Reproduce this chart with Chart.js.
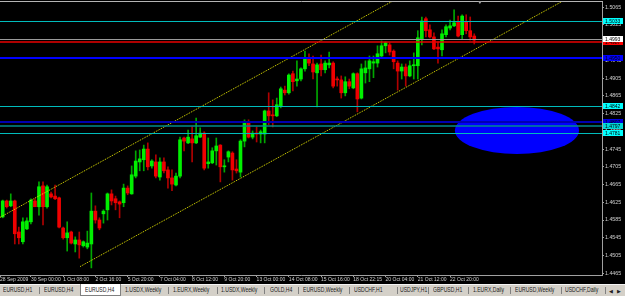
<!DOCTYPE html>
<html>
<head>
<meta charset="utf-8">
<script src="https://cdn.jsdelivr.net/npm/chart.js@4.4.0/dist/chart.umd.min.js"></script>
<style>
html, body { margin: 0; padding: 0; background: #000; }
#wrap { position: relative; width: 625px; height: 296px; overflow: hidden; background: #000; }
#c { position: absolute; left: 0; top: 0; }
#tabs { position: absolute; left: 0; top: 284px; width: 625px; height: 12px; background: #d4d0c8;
        border-top: 1px solid #f4f4f4; box-sizing: border-box;
        font: 6.5px "Liberation Sans", Arial, sans-serif; color: #202020; }
.tab { position: absolute; top: 1px; white-space: nowrap; transform: scaleX(0.78); transform-origin: 0 0; }
.sep { position: absolute; top: 2px; width: 1px; height: 7px; background: #808080; }
.act { position: absolute; top: -1px; height: 12px; background: #fff; border: 1px solid #808080; border-top: none; box-sizing: border-box; }
</style>
</head>
<body>
<div id="wrap">
  <canvas id="c" width="625" height="284"></canvas>
  <div id="tabs"></div>
</div>
<script>
// ---------- Data (EURUSD H4) ----------
const opens = [
  1.4592,1.4628,1.4617,1.4628,1.4558,1.4536,1.4565,1.4581,1.4628,1.4615,
  1.4662,1.4615,1.4644,1.4639,1.4635,1.4567,1.4545,1.4558,1.4531,1.4540,
  1.4527,1.4524,1.4531,1.4605,1.4585,1.4599,1.4608,1.4644,1.4633,1.4626,
  1.4624,1.4657,1.4644,1.4684,1.4716,1.4721,1.4745,1.4707,1.4716,1.4682,
  1.4716,1.4698,1.4680,1.4664,1.4684,1.4770,1.4759,1.4768,1.4759,1.4772,
  1.4781,1.4712,1.4714,1.4741,1.4754,1.4705,1.4727,1.4736,1.4700,1.4693,
  1.4763,1.4806,1.4772,1.4781,1.4779,1.4779,1.4831,1.4822,1.4820,1.4842,
  1.4878,1.4872,1.4915,1.4899,1.4903,1.4926,1.4948,1.4937,1.4917,1.4937,
  1.4924,1.4935,1.4939,1.4903,1.4901,1.4872,1.4897,1.4883,1.4915,1.4860,
  1.4917,1.4926,1.4939,1.4939,1.4955,1.4978,1.4980,1.4966,1.4939,1.4921,
  1.4930,1.4910,1.4933,1.4933,1.4994,1.5039,1.5014,1.4998,1.4975,1.4969,
  1.5003,1.5018,1.5023,1.5032,1.5003,1.5032,1.5012,1.5000
];
const highs = [
  1.4630,1.4630,1.4644,1.4630,1.4569,1.4590,1.4590,1.4633,1.4633,1.4671,
  1.4671,1.4664,1.4648,1.4664,1.4637,1.4569,1.4581,1.4560,1.4547,1.4558,
  1.4538,1.4560,1.4646,1.4617,1.4590,1.4608,1.4646,1.4653,1.4639,1.4628,
  1.4666,1.4662,1.4707,1.4741,1.4743,1.4754,1.4759,1.4721,1.4732,1.4725,
  1.4725,1.4705,1.4698,1.4691,1.4772,1.4772,1.4788,1.4795,1.4815,1.4793,
  1.4784,1.4770,1.4748,1.4770,1.4755,1.4721,1.4741,1.4739,1.4721,1.4766,
  1.4811,1.4811,1.4786,1.4795,1.4788,1.4833,1.4872,1.4856,1.4860,1.4885,
  1.4887,1.4915,1.4921,1.4944,1.4928,1.4966,1.4960,1.4955,1.4939,1.4957,
  1.4944,1.4964,1.4942,1.4908,1.4910,1.4908,1.4903,1.4917,1.4917,1.4937,
  1.4944,1.4955,1.4955,1.4978,1.4989,1.4987,1.4985,1.4969,1.4944,1.4937,
  1.4937,1.4944,1.4962,1.5012,1.5043,1.5043,1.5025,1.5007,1.4987,1.5014,
  1.5025,1.5036,1.5059,1.5045,1.5048,1.5048,1.5043,1.5005
];
const lows = [
  1.4590,1.4612,1.4615,1.4531,1.4531,1.4531,1.4563,1.4576,1.4615,1.4596,
  1.4574,1.4612,1.4635,1.4631,1.4567,1.4542,1.4515,1.4531,1.4513,1.4499,
  1.4524,1.4520,1.4477,1.4578,1.4563,1.4578,1.4585,1.4619,1.4608,1.4590,
  1.4615,1.4642,1.4643,1.4680,1.4696,1.4696,1.4698,1.4702,1.4680,1.4675,
  1.4691,1.4657,1.4651,1.4662,1.4680,1.4741,1.4757,1.4716,1.4757,1.4771,
  1.4698,1.4702,1.4712,1.4709,1.4671,1.4693,1.4716,1.4675,1.4691,1.4682,
  1.4750,1.4770,1.4768,1.4761,1.4759,1.4759,1.4800,1.4795,1.4818,1.4838,
  1.4867,1.4869,1.4876,1.4887,1.4899,1.4921,1.4933,1.4903,1.4840,1.4910,
  1.4917,1.4928,1.4883,1.4887,1.4860,1.4865,1.4881,1.4881,1.4829,1.4858,
  1.4894,1.4897,1.4906,1.4930,1.4953,1.4962,1.4957,1.4926,1.4878,1.4903,
  1.4887,1.4908,1.4903,1.4903,1.4980,1.4998,1.4996,1.4969,1.4939,1.4955,
  1.4998,1.5014,1.5021,1.4998,1.4994,1.5005,1.4991,1.4982
];
const closes = [
  1.4628,1.4615,1.4628,1.4554,1.4545,1.4581,1.4583,1.4630,1.4615,1.4660,
  1.4615,1.4660,1.4637,1.4633,1.4569,1.4545,1.4556,1.4533,1.4540,1.4529,
  1.4536,1.4533,1.4605,1.4585,1.4567,1.4605,1.4644,1.4628,1.4624,1.4621,
  1.4657,1.4646,1.4687,1.4718,1.4723,1.4745,1.4705,1.4718,1.4684,1.4716,
  1.4696,1.4680,1.4666,1.4684,1.4766,1.4763,1.4772,1.4759,1.4775,1.4781,
  1.4702,1.4716,1.4741,1.4752,1.4705,1.4707,1.4739,1.4698,1.4696,1.4763,
  1.4806,1.4772,1.4781,1.4779,1.4784,1.4831,1.4820,1.4820,1.4845,1.4881,
  1.4872,1.4912,1.4897,1.4903,1.4926,1.4948,1.4939,1.4919,1.4935,1.4924,
  1.4939,1.4939,1.4887,1.4901,1.4872,1.4897,1.4887,1.4915,1.4858,1.4926,
  1.4928,1.4944,1.4942,1.4960,1.4978,1.4985,1.4964,1.4942,1.4921,1.4930,
  1.4910,1.4933,1.4935,1.4996,1.5034,1.5012,1.4998,1.4971,1.4971,1.5005,
  1.5021,1.5023,1.5030,1.5000,1.5045,1.5012,1.4998,1.4991
];

// time axis: bar index of each label and its text
const timeTickBars = [-0.67, 7, 15, 23, 31, 39, 47, 55, 63, 71, 79, 87, 95, 103, 111];
const timeLabels = ['28 Sep 2009', '30 Sep 00:00', '1 Oct 08:00', '2 Oct 16:00', '5 Oct 20:00',
  '7 Oct 04:00', '8 Oct 12:00', '9 Oct 20:00', '13 Oct 00:00', '14 Oct 08:00', '15 Oct 16:00',
  '18 Oct 22:15', '20 Oct 04:00', '21 Oct 12:00', '22 Oct 20:00'];

// price axis
const priceTicks = [1.5065, 1.5025, 1.4985, 1.4945, 1.4905, 1.4865, 1.4825, 1.4785,
  1.4745, 1.4705, 1.4665, 1.4625, 1.4585, 1.4545, 1.4505, 1.4465];

// horizontal lines (red drawn before the bid line so the white tag sits on top)
const levelPrices = [1.5033, 1.4987, 1.4993, 1.4950, 1.4842, 1.4807, 1.4797, 1.4781];

// channel lines: [bar, price] anchors
const channelUpperBars = [-0.67, 100];
const channelUpperPrices = [1.4591, 1.5095];
const channelLowerBars = [19.2, 140];
const channelLowerPrices = [1.4480, 1.5084];

// ellipse object: bar range and price range
const ellipseBars = [112.2, 143.0];
const ellipsePrices = [1.4840, 1.4734];

// ---------- Styles ----------
const levelLineColors = ['#00bcbc', '#e80000', '#9a9a9a', '#0000ff', '#00bcbc', '#0000b0', '#008c8c', '#00bcbc'];
const levelLineWidths = [1, 1.5, 1, 2, 1, 2, 1.5, 1];
const levelTagColors = ['#00ffff', '#ff0000', '#ffffff', '#0000ff', '#00ffff', '#0000e0', '#00d8d8', '#00ffff'];

const up = closes.map((c, i) => c >= opens[i]);
const bodyColors = up.map(u => u ? '#00f000' : '#f00000');
const wickColors = up.map(u => u ? '#00a800' : '#b00000');

// ---------- Tabs ----------
const tabNames = ['EURUSD,H1', 'EURUSD,H4', 'EURUSD,H4', '1.USDX,Weekly', '1.EURX,Weekly', '1.USDX,Weekly',
  'GOLD,H4', 'EURUSD,Weekly', 'USDCHF,H1', 'USDJPY,H1', 'GBPUSD,H1', '1.EURX,Daily', 'EURUSD,Weekly', 'USDCHF,Daily'];
const tabX = [3, 44, 85, 125, 173, 221, 270, 303, 354, 400, 433, 473, 515, 565];
const sepX = [39, 80, 168, 217, 264, 298, 349, 397, 428, 468, 510, 561, 605];

const tabs = document.getElementById('tabs');
let html = '<div class="act" style="left:80px;width:41px"></div>';
sepX.forEach(x => { html += `<div class="sep" style="left:${x}px"></div>`; });
tabNames.forEach((t, i) => { html += `<span class="tab" style="left:${tabX[i]}px">${t}</span>`; });
html += '<span class="tab" style="left:609px;transform:none;font-size:5px;top:3px">&#9664;</span>';
html += '<span class="tab" style="left:617px;transform:none;font-size:5px;top:3px">&#9654;</span>';
tabs.innerHTML = html;

// ---------- Overlay plugin: ellipse, levels, frame, price tags ----------
const overlay = {
  id: 'overlay',
  beforeDatasetsDraw(chart) {
    const { ctx, chartArea: a, scales: { x, y } } = chart;
    ctx.save();
    ctx.beginPath();
    ctx.rect(a.left, a.top, a.right - a.left, a.bottom - a.top);
    ctx.clip();
    const x1 = x.getPixelForValue(ellipseBars[0]), x2 = x.getPixelForValue(ellipseBars[1]);
    const y1 = y.getPixelForValue(ellipsePrices[0]), y2 = y.getPixelForValue(ellipsePrices[1]);
    ctx.fillStyle = '#0000ff';
    ctx.beginPath();
    ctx.ellipse((x1 + x2) / 2, (y1 + y2) / 2, Math.abs(x2 - x1) / 2, Math.abs(y2 - y1) / 2, 0, 0, Math.PI * 2);
    ctx.fill();
    ctx.restore();
  },
  afterDatasetsDraw(chart) {
    const { ctx, chartArea: a, scales: { y } } = chart;
    ctx.save();
    levelPrices.forEach((p, i) => {
      let py = Math.round(y.getPixelForValue(p));
      if (levelLineWidths[i] % 2 === 1) py += 0.5;
      ctx.strokeStyle = levelLineColors[i];
      ctx.lineWidth = levelLineWidths[i];
      ctx.beginPath();
      ctx.moveTo(a.left, py);
      ctx.lineTo(a.right, py);
      ctx.stroke();
    });
    ctx.restore();
  },
  afterDraw(chart) {
    const { ctx, chartArea: a, scales: { x, y } } = chart;
    ctx.save();
    // top frame line
    ctx.strokeStyle = '#b4b4b4';
    ctx.lineWidth = 1;
    ctx.beginPath();
    ctx.moveTo(0, a.top + 0.5);
    ctx.lineTo(a.right + 1, a.top + 0.5);
    ctx.stroke();
    // chart shift marker
    const mx = x.getPixelForValue(opens.length + 0.4);
    ctx.fillStyle = '#a0a0a0';
    ctx.beginPath();
    ctx.moveTo(mx - 2, a.top);
    ctx.lineTo(mx + 2, a.top);
    ctx.lineTo(mx, a.top + 3);
    ctx.closePath();
    ctx.fill();
    // price tags on the right axis
    ctx.font = '5px "Liberation Sans", Arial, sans-serif';
    ctx.textBaseline = 'middle';
    levelPrices.forEach((p, i) => {
      const py = Math.round(y.getPixelForValue(p));
      ctx.fillStyle = levelTagColors[i];
      ctx.fillRect(a.right + 1, py - 3, 20, 6);
      ctx.fillStyle = '#000';
      ctx.fillText(p.toFixed(4), a.right + 3, py + 0.5);
    });
    ctx.restore();
  }
};

// ---------- Chart ----------
const bars = opens.map((o, i) => i);

new Chart(document.getElementById('c'), {
  type: 'bar',
  data: {
    datasets: [
      {
        type: 'line',
        data: channelUpperBars.map((b, i) => ({ x: b, y: channelUpperPrices[i] })),
        borderColor: '#e6e600', borderWidth: 1, borderDash: [1, 1],
        pointRadius: 0, fill: false
      },
      {
        type: 'line',
        data: channelLowerBars.map((b, i) => ({ x: b, y: channelLowerPrices[i] })),
        borderColor: '#e6e600', borderWidth: 1, borderDash: [1, 1],
        pointRadius: 0, fill: false
      },
      {
        label: 'body',
        data: bars.map(i => ({ x: i, y: [opens[i], closes[i]] })),
        backgroundColor: bodyColors,
        barThickness: 3, minBarLength: 1, grouped: false
      },
      {
        label: 'wick',
        data: bars.map(i => ({ x: i, y: [lows[i], highs[i]] })),
        backgroundColor: wickColors,
        barThickness: 1, minBarLength: 1, grouped: false
      }
    ]
  },
  options: {
    responsive: false,
    animation: false,
    devicePixelRatio: 1,
    layout: { autoPadding: false, padding: { top: 1, left: 0, right: 0, bottom: 0 } },
    plugins: { legend: { display: false }, tooltip: { enabled: false } },
    scales: {
      x: {
        type: 'linear', offset: false,
        min: -0.67, max: 148.7,
        grid: { drawOnChartArea: false, drawTicks: true, tickLength: 2, color: '#a0a0a0', offset: false },
        border: { display: true, color: '#a0a0a0' },
        afterBuildTicks: s => { s.ticks = timeTickBars.map(v => ({ value: v })); },
        afterFit: s => { s.height = 9; s.paddingLeft = 0; s.paddingRight = 0; },
        ticks: {
          autoSkip: false, maxRotation: 0, align: 'start', padding: 0,
          color: '#d0d0d0', font: { family: 'Liberation Sans', size: 5 },
          callback: (v, i) => timeLabels[i]
        }
      },
      y: {
        type: 'linear', position: 'right',
        min: 1.4461, max: 1.5079,
        grid: { drawOnChartArea: false, drawTicks: true, tickLength: 2, color: '#a0a0a0' },
        border: { display: true, color: '#a0a0a0' },
        afterBuildTicks: s => { s.ticks = priceTicks.map(v => ({ value: v })); },
        afterFit: s => { s.width = 23; s.paddingTop = 0; s.paddingBottom = 0; },
        ticks: {
          padding: 1, color: '#d0d0d0', font: { family: 'Liberation Sans', size: 5.3 },
          callback: v => v.toFixed(4)
        }
      }
    }
  },
  plugins: [overlay]
});
</script>
</body>
</html>
